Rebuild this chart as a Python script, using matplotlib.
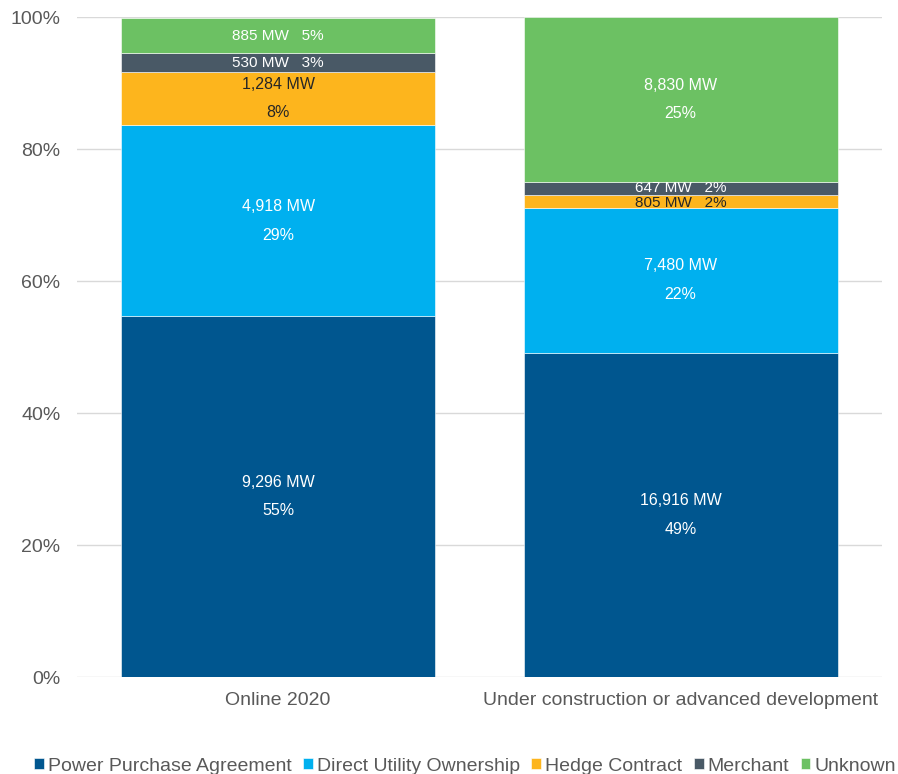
import numpy as np
import matplotlib.pyplot as plt

plt.rcParams['font.family'] = ['Liberation Sans', 'DejaVu Sans']

categories = ['Online 2020', 'Under construction or advanced development']
series = ['Power Purchase Agreement', 'Direct Utility Ownership',
          'Hedge Contract', 'Merchant', 'Unknown']
# capacity by contract type (MW)
mw = {
    'Power Purchase Agreement': [9296, 16916],
    'Direct Utility Ownership': [4918, 7480],
    'Hedge Contract': [1284, 805],
    'Merchant': [530, 647],
    'Unknown': [885, 8830],
}
# share of each bar (%)
share = {
    'Power Purchase Agreement': [54.7, 49.1],
    'Direct Utility Ownership': [28.9, 22.0],
    'Hedge Contract': [8.1, 1.9],
    'Merchant': [2.8, 2.0],
    'Unknown': [5.4, 25.0],
}
colors = ['#00568F', '#00B0EF', '#FDB51D', '#495966', '#6CC163']
text_colors = ['white', 'white', '#262626', 'white', 'white']
# small vertical nudges so the thin-segment labels don't collide
nudge = {'Hedge Contract': -0.002, 'Merchant': 0.001}

vals = np.array([mw[s] for s in series], dtype=float)
shares = np.array([share[s] for s in series]) / 100

fig = plt.figure(figsize=(8.98, 7.74), dpi=100)
ax = fig.add_axes([0.0857, 0.1253, 0.8963, 0.8527])

x = np.arange(len(categories))
bottom = np.zeros(len(categories))
for i, s in enumerate(series):
    ax.bar(x, shares[i], 0.78, bottom=bottom, color=colors[i], label=s,
           edgecolor='white', linewidth=0.4, zorder=2)
    for j in range(len(categories)):
        pct = round(shares[i, j] * 100)
        cy = bottom[j] + shares[i, j] / 2
        if shares[i, j] > 0.06:
            txt = f'{vals[i, j]:,.0f} MW\n\n{pct:.0f}%'
            ax.text(x[j], cy, txt, ha='center', va='center', fontsize=11.5,
                    color=text_colors[i], linespacing=0.95, zorder=3)
        else:
            txt = f'{vals[i, j]:,.0f} MW   {pct:.0f}%'
            if shares[i, j] < 0.025:
                cy += nudge.get(s, 0)
            ax.text(x[j], cy, txt, ha='center', va='center', fontsize=11,
                    color=text_colors[i], zorder=3)
    bottom += shares[i]

ax.set_xlim(-0.5, 1.5)
ax.set_ylim(0, 1)
ax.set_yticks(np.arange(0, 1.01, 0.2))
ax.set_yticklabels([f'{v}%' for v in range(0, 101, 20)])
ax.set_xticks(x)
ax.set_xticklabels(categories)
ax.grid(axis='y', color='#D9D9D9', linewidth=1, zorder=0)
for sp in ax.spines.values():
    sp.set_visible(False)
ax.tick_params(axis='both', length=0, labelsize=14, colors='#595959')
ax.tick_params(axis='x', pad=11)
ax.tick_params(axis='y', pad=12)

ax.legend(loc='center', bbox_to_anchor=(0.482, -0.135), ncol=5,
          frameon=False, fontsize=14, handlelength=0.5, handleheight=0.5,
          handletextpad=0.2, columnspacing=0.6, labelcolor='#595959')

fig.savefig('out.png', dpi=100)
